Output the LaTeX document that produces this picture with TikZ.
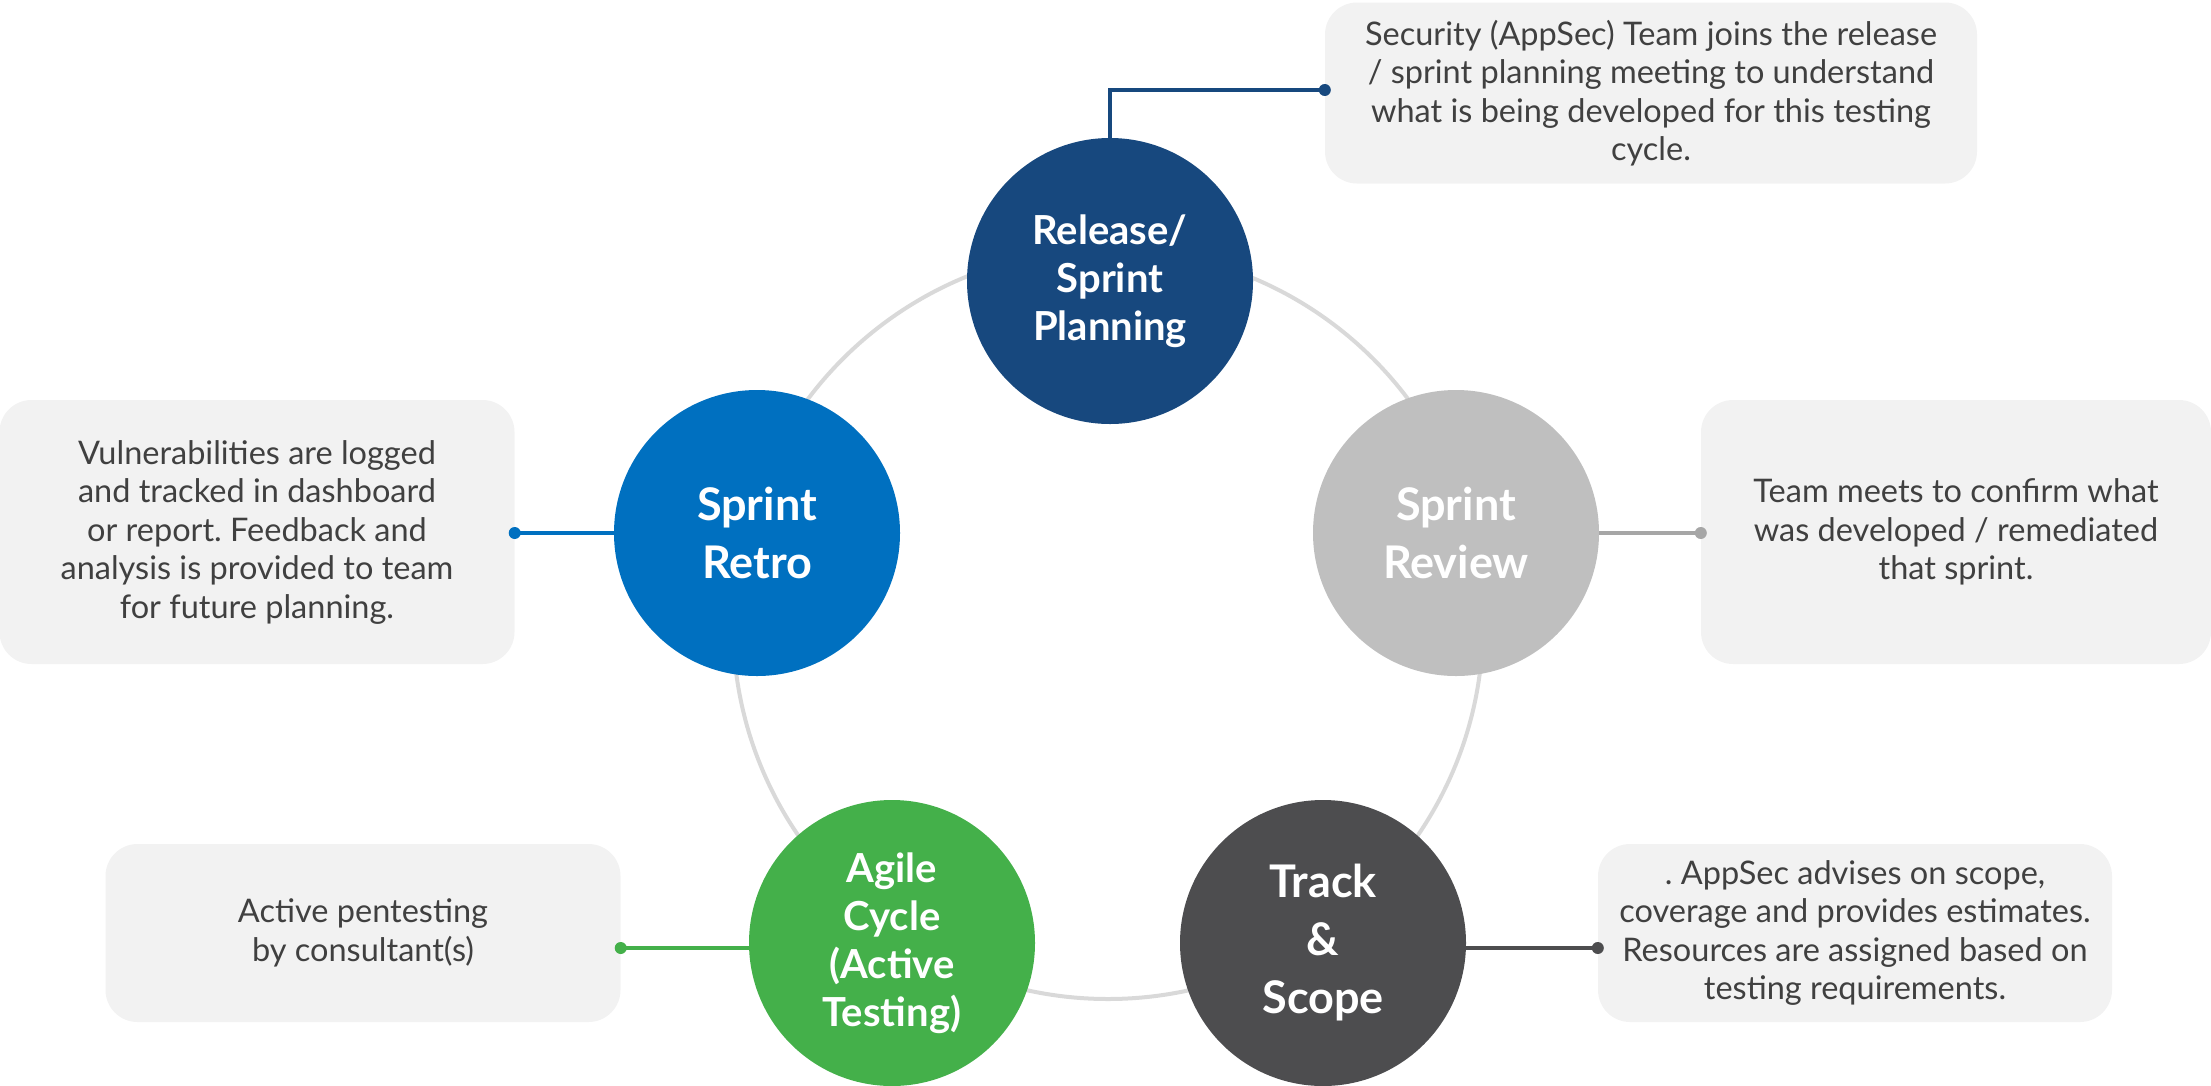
\documentclass[tikz,border=0pt]{standalone}
\usepackage{fontspec}
\setmainfont{Lato}
\frenchspacing
\definecolor{planblue}{HTML}{17487E}
\definecolor{retroblue}{HTML}{0070C0}
\definecolor{reviewgrey}{HTML}{BFBFBF}
\definecolor{reviewline}{HTML}{A6A6A6}
\definecolor{trackgrey}{HTML}{4D4D4F}
\definecolor{agilegreen}{HTML}{44B04A}
\definecolor{boxfill}{HTML}{F2F2F2}
\definecolor{txtgrey}{HTML}{404040}
\definecolor{ringgrey}{HTML}{D9D9D9}
\tikzset{
  stage/.style={circle, minimum size=286pt, inner sep=0pt, text=white, align=center, font=\bfseries\fontsize{45}{58}\selectfont},
  stagesmall/.style={stage, font=\bfseries\fontsize{40}{48}\selectfont},
  infobox/.style={rectangle, rounded corners=32pt, fill=boxfill, inner sep=0pt, text=txtgrey, align=center, font=\fontsize{32.5}{38.5}\selectfont},
  link/.style={line width=3.5pt},
  linkdot/.style={circle, inner sep=0pt, minimum size=12pt}
}
\begin{document}
\begin{tikzpicture}[x=1pt,y=-1pt]
\useasboundingbox (0,0) rectangle (2211,1085);
% ring
\node[circle, draw=ringgrey, line width=4pt, minimum size=750pt, inner sep=0pt] (ring) at (1108,624) {};
% info boxes
\node[infobox, minimum width=652pt, minimum height=181pt] (bplan) at (1651,93) {Security (AppSec) Team joins the release\\/ sprint planning meeting to understand\\what is being developed for this testing\\cycle.};
\node[infobox, minimum width=515pt, minimum height=264pt] (bretro) at (257,532) {Vulnerabilities are logged\\and tracked in dashboard\\or report. Feedback and\\analysis is provided to team\\for future planning.};
\node[infobox, minimum width=510pt, minimum height=264pt] (breview) at (1956,532) {Team meets to confirm what\\was developed / remediated\\that sprint.};
\node[infobox, minimum width=515pt, minimum height=178pt] (bagile) at (363,933) {Active pentesting\\by consultant(s)};
\node[infobox, minimum width=514pt, minimum height=178pt] (btrack) at (1855,933) {. AppSec advises on scope,\\coverage and provides estimates.\\Resources are assigned based on\\testing requirements.};
% stages
\node[stagesmall, fill=planblue] (plan) at (1110,281) {Release/\\Sprint\\Planning};
\node[stage, fill=reviewgrey] (review) at (1456,533) {Sprint\\Review};
\node[stage, fill=trackgrey] (track) at (1323,943) {Track\\\&\\Scope};
\node[stagesmall, fill=agilegreen] (agile) at (892,943) {Agile\\Cycle\\(Active\\Testing)};
\node[stage, fill=retroblue] (retro) at (757,533) {Sprint\\Retro};
% connector end points
\node[linkdot, fill=planblue] (dplan) at (bplan.west |- 0,90) {};
\node[linkdot, fill=retroblue] (dretro) at (bretro.east |- retro.west) {};
\node[linkdot, fill=reviewline] (dreview) at (breview.west |- review.east) {};
\node[linkdot, fill=agilegreen] (dagile) at (bagile.east |- 0,948) {};
\node[linkdot, fill=trackgrey] (dtrack) at (btrack.west |- 0,948) {};
% connectors
\draw[link, draw=planblue] (plan.north) -- (plan.north |- dplan.center) -- (dplan.center);
\draw[link, draw=retroblue] (retro.west) -- (dretro.center);
\draw[link, draw=reviewline] (review.east) -- (dreview.center);
\draw[link, draw=agilegreen] (agile.west |- dagile.center) -- (dagile.center);
\draw[link, draw=trackgrey] (track.east |- dtrack.center) -- (dtrack.center);
\end{tikzpicture}
\end{document}
